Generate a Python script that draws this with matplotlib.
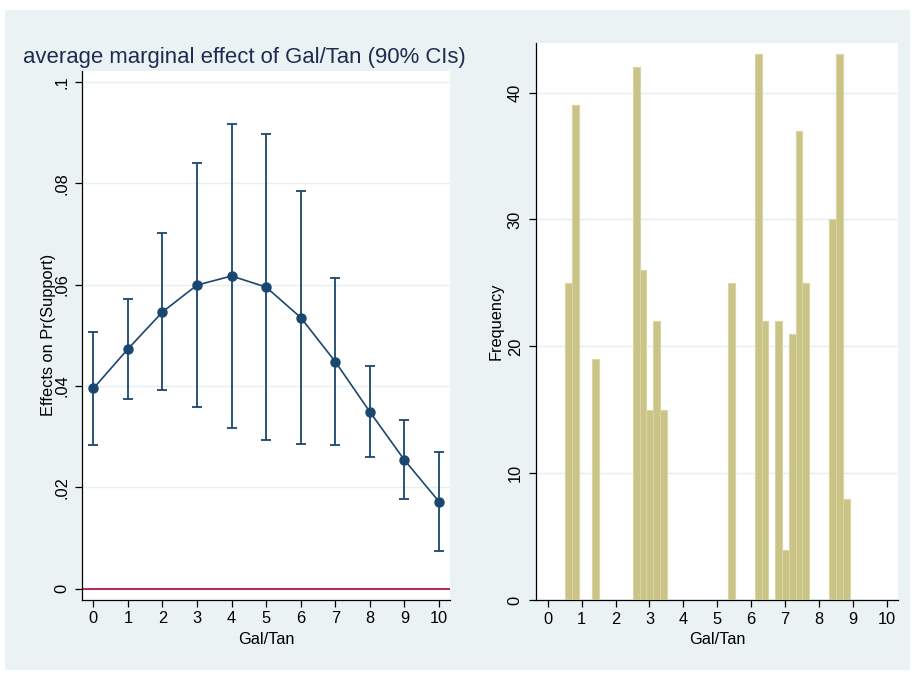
import matplotlib
matplotlib.use("Agg")
import matplotlib.pyplot as plt
from matplotlib.patches import Rectangle

plt.rcParams['font.family'] = ['Liberation Sans', 'DejaVu Sans']

# ---- data ----
gal_tan = [0, 1, 2, 3, 4, 5, 6, 7, 8, 9, 10]
ame = [0.0395, 0.0473, 0.0546, 0.0599, 0.0617, 0.0595, 0.0535, 0.0448, 0.0349, 0.0254, 0.0172]
ci_low = [0.0284, 0.0375, 0.0392, 0.0358, 0.0318, 0.0293, 0.0285, 0.0283, 0.0260, 0.0176, 0.0075]
ci_high = [0.0507, 0.0571, 0.0701, 0.0840, 0.0917, 0.0897, 0.0785, 0.0613, 0.0440, 0.0332, 0.0270]

bin_left = [0.51, 0.71, 1.31, 2.51, 2.71, 2.91, 3.11, 3.31, 5.31, 6.11, 6.31,
            6.71, 6.91, 7.11, 7.31, 7.51, 8.31, 8.51, 8.71]
freq = [25, 39, 19, 42, 26, 15, 22, 15, 25, 43, 22, 22, 4, 21, 37, 25, 30, 43, 8]
bin_width = 0.201

left_yticks = [0, 0.02, 0.04, 0.06, 0.08, 0.1]
left_yticklabels = ['0', '.02', '.04', '.06', '.08', '.1']
right_yticks = [0, 10, 20, 30, 40]
xticks = list(range(0, 11))

title = "average marginal effect of Gal/Tan (90% CIs)"

# ---- style ----
W, H = 915, 675
BG = '#EAF2F3'
NAVY = '#1A476F'
TITLE_C = '#1E2C52'
BAR_C = '#CAC487'
BAR_E = '#D9D5A2'
FS = 11.8

fig = plt.figure(figsize=(W / 100, H / 100), dpi=100)
fig.patch.set_facecolor('white')
fig.add_artist(Rectangle((5 / W, 1 - 670 / H), 905 / W, 660 / H,
                         transform=fig.transFigure, facecolor=BG,
                         edgecolor='none', zorder=-10))


def fx(px):
    return px / W


def fy(py):
    return 1 - py / H


def style_axes(ax):
    ax.set_facecolor('white')
    for s in ['top', 'right']:
        ax.spines[s].set_visible(False)
    for s in ['left', 'bottom']:
        ax.spines[s].set_color('black')
        ax.spines[s].set_linewidth(0.9)
    ax.tick_params(axis='both', direction='out', length=5, width=0.9,
                   color='black', labelsize=FS, labelcolor='black')
    ax.tick_params(axis='x', pad=3)
    ax.tick_params(axis='y', pad=4.5)
    for lab in ax.get_yticklabels():
        lab.set_rotation(90)
        lab.set_va('center')
    ax.grid(axis='y', color='#E6EEF0', linewidth=1.0)
    ax.set_axisbelow(True)


# ---- left panel ----
ax1 = fig.add_axes([fx(82.3), fy(600), fx(450 - 82.3), (600 - 70.7) / H])
ax1.set_xlim(-0.32, 10.32)
ax1.set_ylim(-0.00223, 0.1022)
ax1.set_xticks(xticks)
ax1.set_yticks(left_yticks)
ax1.set_yticklabels(left_yticklabels)
style_axes(ax1)
ax1.axhline(0, color='#B8173F', linewidth=1.3, zorder=2)
yerr = [[a - l for a, l in zip(ame, ci_low)], [h - a for a, h in zip(ame, ci_high)]]
ax1.errorbar(gal_tan, ame, yerr=yerr, fmt='none', ecolor=NAVY, elinewidth=1.3,
             capsize=3.3, capthick=1.3, zorder=3)
ax1.plot(gal_tan, ame, color=NAVY, linewidth=1.2, marker='o', markersize=6.5,
         markerfacecolor=NAVY, markeredgecolor=NAVY, zorder=4)
ax1.set_xlabel('Gal/Tan', fontsize=FS, labelpad=4)
fig.text(fx(48.5), fy(335), 'Effects on Pr(Support)', rotation=90,
         ha='center', va='center', fontsize=FS)
fig.text(fx(23), fy(62.7), title, ha='left', va='baseline',
         fontsize=15.95, color=TITLE_C)

# ---- right panel ----
ax2 = fig.add_axes([fx(536), fy(600.4), fx(898 - 536), (600.4 - 43) / H])
ax2.set_xlim(-0.345, 10.33)
ax2.set_ylim(0, 43.9)
ax2.set_xticks(xticks)
ax2.set_yticks(right_yticks)
style_axes(ax2)
ax2.bar(bin_left, freq, width=bin_width, align='edge', color=BAR_C,
        edgecolor=BAR_E, linewidth=0.8, zorder=3)
ax2.set_xlabel('Gal/Tan', fontsize=FS, labelpad=4)
fig.text(fx(496), fy(321.5), 'Frequency', rotation=90,
         ha='center', va='center', fontsize=FS)

fig.savefig('out.png', dpi=100, facecolor=fig.get_facecolor())
